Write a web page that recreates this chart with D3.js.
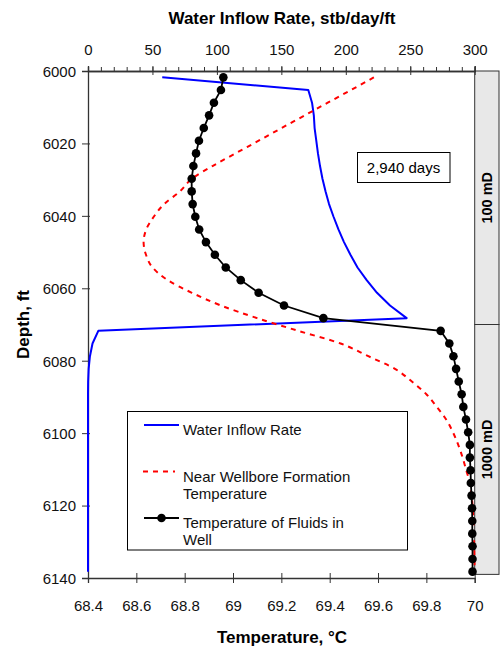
<!DOCTYPE html>
<html>
<head>
<meta charset="utf-8">
<script src="https://cdn.jsdelivr.net/npm/d3@7/dist/d3.min.js"></script>
<style>
  html, body { margin: 0; padding: 0; background: #fff; }
  svg { display: block; font-family: "Liberation Sans", Arial, sans-serif; }
</style>
</head>
<body>
<svg id="chart" width="501" height="648"></svg>
<script>
// Grid-block centre depths (ft), 3.5 ft cells
const depths = [
  6001.75, 6005.25, 6008.75, 6012.25, 6015.75, 6019.25, 6022.75, 6026.25, 6029.75, 6033.25,
  6036.75, 6040.25, 6043.75, 6047.25, 6050.75, 6054.25, 6057.75, 6061.25, 6064.75, 6068.25,
  6071.75, 6075.25, 6078.75, 6082.25, 6085.75, 6089.25, 6092.75, 6096.25, 6099.75, 6103.25,
  6106.75, 6110.25, 6113.75, 6117.25, 6120.75, 6124.25, 6127.75, 6131.25, 6134.75, 6138.25
];
// Water inflow rate, stb/day/ft
const inflowRate = [
  57.6, 170.9, 173.8, 175.2, 175.8, 177.1, 178.4, 180.0, 181.9, 184.3,
  187.0, 190.5, 194.3, 198.6, 203.6, 209.1, 216.2, 224.2, 234.3, 247.2,
  8.0, 3.5, 1.5, 0.5, 0.1, 0, 0, 0, 0, 0,
  0, 0, 0, 0, 0, 0, 0, 0, 0, 0
];
// Near wellbore formation temperature, °C
const formationTemp = [
  69.583, 69.488, 69.392, 69.297, 69.201, 69.106, 69.010, 68.915, 68.830, 68.780,
  68.715, 68.672, 68.641, 68.630, 68.640, 68.667, 68.730, 68.830, 68.950, 69.100,
  69.270, 69.445, 69.560, 69.670, 69.740, 69.800, 69.843, 69.882, 69.910, 69.932,
  69.950, 69.965, 69.980, 69.987, 69.992, 69.995, 69.997, 69.998, 69.999, 70.000
];
// Temperature of fluids in the well, °C
const fluidTemp = [
  68.960, 68.950, 68.921, 68.901, 68.879, 68.859, 68.847, 68.836, 68.829, 68.829,
  68.833, 68.844, 68.860, 68.888, 68.925, 68.970, 69.032, 69.106, 69.211, 69.374,
  69.859, 69.895, 69.912, 69.923, 69.934, 69.946, 69.953, 69.964, 69.973, 69.980,
  69.980, 69.983, 69.984, 69.987, 69.989, 69.990, 69.990, 69.991, 69.991, 69.991
];

const tempTicks = [68.4, 68.6, 68.8, 69.0, 69.2, 69.4, 69.6, 69.8, 70.0];
const rateTicks = [0, 50, 100, 150, 200, 250, 300];
const rateMinorTicks = [0, 10, 20, 30, 40, 50, 60, 70, 80, 90, 100, 110, 120, 130, 140, 150,
  160, 170, 180, 190, 200, 210, 220, 230, 240, 250, 260, 270, 280, 290, 300];
const depthTicks = [6000, 6020, 6040, 6060, 6080, 6100, 6120, 6140];

const zones = [
  { label: "100 mD", top: 6000, bottom: 6070 },
  { label: "1000 mD", top: 6070, bottom: 6139 }
];
const elapsedLabel = "2,940 days";

const legendItems = [
  { key: "rate", lines: ["Water Inflow Rate"] },
  { key: "formation", lines: ["Near Wellbore Formation", "Temperature"] },
  { key: "fluid", lines: ["Temperature of Fluids in", "Well"] }
];

const svg = d3.select("#chart");
const plotL = 88, plotR = 474.7, plotT = 71, plotB = 578;

const xT = d3.scaleLinear().domain([68.4, 70]).range([plotL, plotR]);
const xQ = d3.scaleLinear().domain([0, 300]).range([plotL, plotR]);
const y = d3.scaleLinear().domain([6000, 6140]).range([plotT, plotB]);

const axisColor = "#333";

// permeability zone strip on the right
const strip = svg.append("g");
const stripX0 = plotR, stripX1 = 499;
zones.forEach(z => {
  strip.append("rect")
    .attr("x", stripX0).attr("y", y(z.top))
    .attr("width", stripX1 - stripX0).attr("height", y(z.bottom) - y(z.top))
    .attr("fill", "#e8e8e8").attr("stroke", axisColor).attr("stroke-width", 1);
  const cy = (y(z.top) + y(z.bottom)) / 2;
  strip.append("text")
    .attr("transform", `translate(${(stripX0 + stripX1) / 2 + 5},${cy}) rotate(-90)`)
    .attr("text-anchor", "middle")
    .attr("font-size", 14.5).attr("font-weight", "bold")
    .text(z.label);
});

// axes
function styleAxis(g) {
  g.select(".domain").attr("stroke", axisColor).attr("stroke-width", 1.3);
  g.selectAll(".tick line").attr("stroke", axisColor).attr("stroke-width", 1);
  g.selectAll(".tick text").attr("fill", "#111").attr("font-size", 15)
    .attr("font-family", "Liberation Sans, Arial, sans-serif");
}

// top: minor ticks (outward) then majors crossing the line
const topMinor = svg.append("g").attr("transform", `translate(0,${plotT})`)
  .call(d3.axisTop(xQ).tickValues(rateMinorTicks).tickSize(4).tickFormat(""));
styleAxis(topMinor);
const topAxis = svg.append("g").attr("transform", `translate(0,${plotT})`)
  .call(d3.axisTop(xQ).tickValues(rateTicks).tickSize(5).tickFormat(d3.format("d")));
styleAxis(topAxis);
topAxis.selectAll(".tick line").attr("y1", 4).attr("y2", -5);
topAxis.selectAll(".tick text").attr("y", -16).attr("dy", "0");

// bottom temperature axis
const botAxis = svg.append("g").attr("transform", `translate(0,${plotB})`)
  .call(d3.axisBottom(xT).tickValues(tempTicks).tickSize(5)
    .tickFormat(d => d3.format("~g")(+d.toFixed(1))));
styleAxis(botAxis);
botAxis.selectAll(".tick line").attr("y1", -5).attr("y2", 5);
botAxis.selectAll(".tick text").attr("y", 33).attr("dy", "0");

// left depth axis
const leftAxis = svg.append("g").attr("transform", `translate(${plotL},0)`)
  .call(d3.axisLeft(y).tickValues(depthTicks).tickSize(6).tickFormat(d3.format("d")));
styleAxis(leftAxis);
leftAxis.selectAll(".tick line").attr("x1", 2).attr("x2", -6);
leftAxis.selectAll(".tick text").attr("x", -12).attr("dy", "0.36em");

// axis titles
svg.append("text").attr("x", 282).attr("y", 24).attr("text-anchor", "middle")
  .attr("font-size", 17).attr("font-weight", "bold").text("Water Inflow Rate, stb/day/ft");
svg.append("text").attr("x", 282).attr("y", 643).attr("text-anchor", "middle")
  .attr("font-size", 17).attr("font-weight", "bold").text("Temperature, °C");
svg.append("text").attr("transform", `translate(29,${(plotT + plotB) / 2}) rotate(-90)`)
  .attr("text-anchor", "middle")
  .attr("font-size", 17).attr("font-weight", "bold").text("Depth, ft");

// series
const rows = depths.map((d, i) => ({ depth: d, rate: inflowRate[i], form: formationTemp[i], fluid: fluidTemp[i] }));

svg.append("path").datum(rows)
  .attr("fill", "none").attr("stroke", "#0000ff").attr("stroke-width", 2)
  .attr("stroke-linejoin", "round")
  .attr("d", d3.line().x(r => xQ(r.rate)).y(r => y(r.depth)));

svg.append("path").datum(rows)
  .attr("fill", "none").attr("stroke", "#ff0000").attr("stroke-width", 2)
  .attr("stroke-dasharray", "5,5")
  .attr("d", d3.line().curve(d3.curveMonotoneY).x(r => xT(r.form)).y(r => y(r.depth)));

svg.append("path").datum(rows)
  .attr("fill", "none").attr("stroke", "#000").attr("stroke-width", 1.8)
  .attr("d", d3.line().x(r => xT(r.fluid)).y(r => y(r.depth)));
svg.append("g").selectAll("circle").data(rows).join("circle")
  .attr("cx", r => xT(r.fluid)).attr("cy", r => y(r.depth)).attr("r", 4.3)
  .attr("fill", "#000");

// elapsed time label
const note = svg.append("g");
note.append("rect").attr("x", 357.5).attr("y", 152.5).attr("width", 92.5).attr("height", 30)
  .attr("fill", "#fff").attr("stroke", "#000").attr("stroke-width", 1);
note.append("text").attr("x", 403.5).attr("y", 173).attr("text-anchor", "middle")
  .attr("font-size", 15).text(elapsedLabel);

// legend
const lg = svg.append("g");
lg.append("rect").attr("x", 127.5).attr("y", 411.5).attr("width", 280).attr("height", 138.5)
  .attr("fill", "#fff").attr("stroke", "#000").attr("stroke-width", 1);
const rowY = { rate: 425, formation: 471.5, fluid: 518 };
legendItems.forEach(item => {
  const ly = rowY[item.key];
  if (item.key === "rate") {
    lg.append("line").attr("x1", 144).attr("x2", 179).attr("y1", ly).attr("y2", ly)
      .attr("stroke", "#0000ff").attr("stroke-width", 2);
  } else if (item.key === "formation") {
    lg.append("line").attr("x1", 143).attr("x2", 175).attr("y1", ly).attr("y2", ly)
      .attr("stroke", "#ff0000").attr("stroke-width", 2).attr("stroke-dasharray", "5,5");
  } else {
    lg.append("line").attr("x1", 144).attr("x2", 179).attr("y1", ly).attr("y2", ly)
      .attr("stroke", "#000").attr("stroke-width", 1.8);
    lg.append("circle").attr("cx", 161.5).attr("cy", ly).attr("r", 4.3).attr("fill", "#000");
  }
  item.lines.forEach((t, k) => {
    lg.append("text").attr("x", 183).attr("y", ly + 10 + k * 17)
      .attr("font-size", 15).attr("fill", "#111").text(t);
  });
});
</script>
</body>
</html>
